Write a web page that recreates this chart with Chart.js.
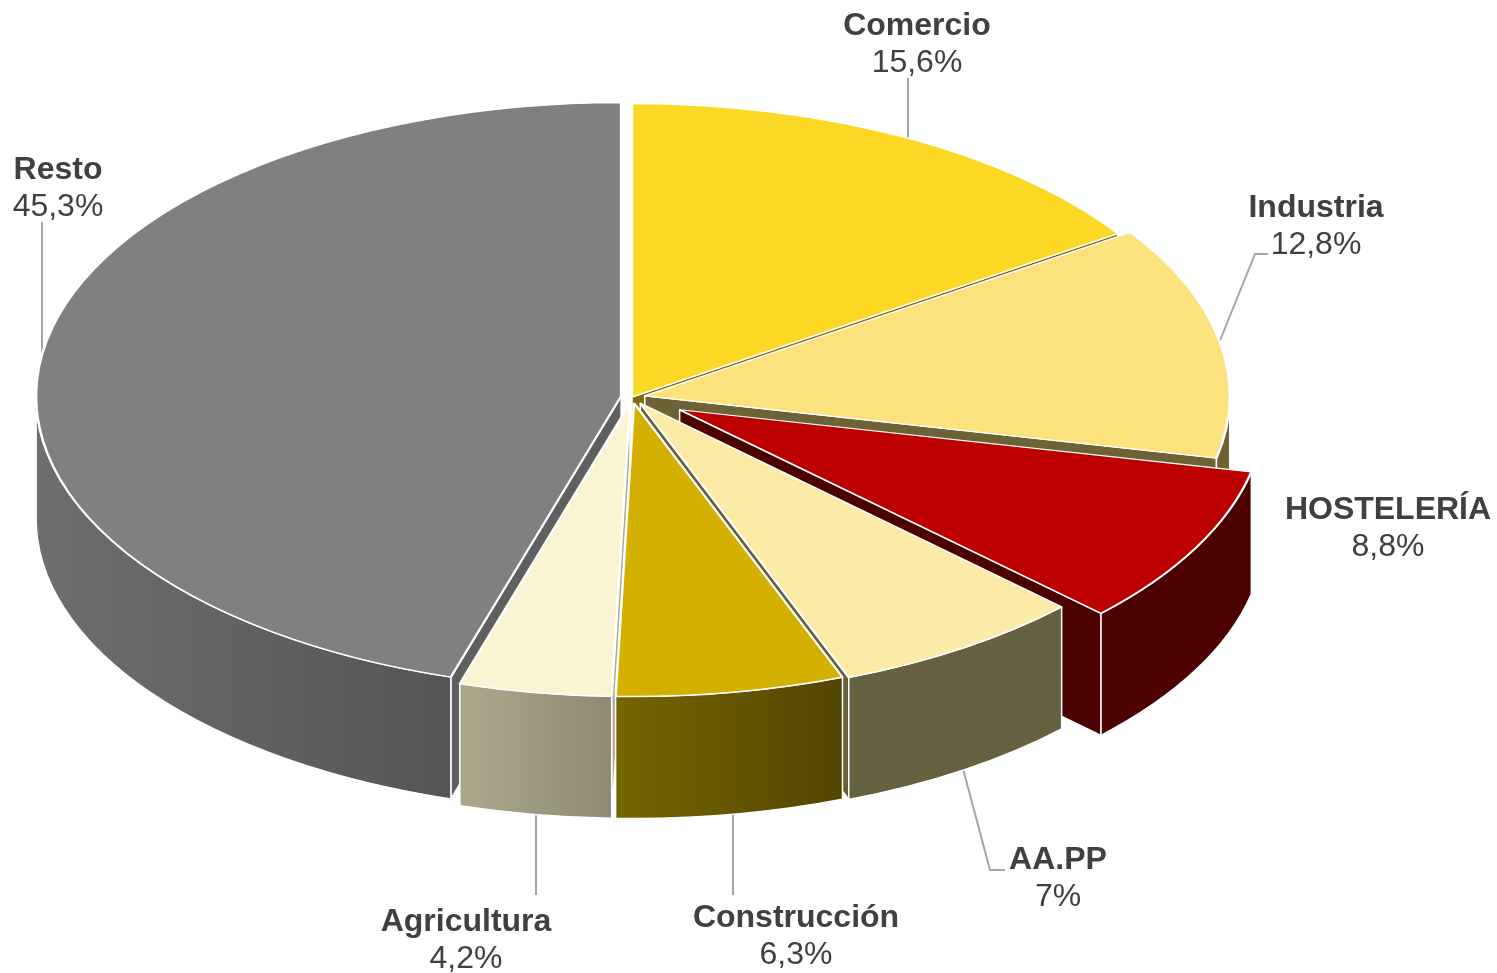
<!DOCTYPE html>
<html lang="es">
<head>
<meta charset="utf-8">
<title>Pie 3D</title>
<style>
html,body{margin:0;padding:0;background:#fff;overflow:hidden}
canvas{display:block}
</style>
<script src="https://cdn.jsdelivr.net/npm/chart.js@4"></script>
</head>
<body>
<canvas id="c" width="1497" height="973"></canvas>
<script>
// data
const categories = ['Comercio','Industria','HOSTELERÍA','AA.PP','Construcción','Agricultura','Resto'];
const shares     = [15.6, 12.8, 8.8, 7, 6.3, 4.2, 45.3];
// styling
const topColors  = ['#FBD823','#FBE27C','#BC0000','#FCEBA7','#D4B100','#FBF4D3','#808080'];
const faceColors = ['#7D6C11','#6D6235','#4D0000','#65603F','#776500','#ADA88C','#5F5F5F'];
const wallStart  = ['#7D6C11','#6D6235','#4D0000','#65603F','#776500','#ADA88C','#6E6E6E'];
const wallEnd    = ['#7D6C11','#6D6235','#4D0000','#65603F','#524500','#8E8A74','#555555'];
const explodePx  = [0, 13, 54, 15, 12, 12, 11];
// 3D view
const RADIUS = 585, TILT = 0.5017, DEPTH = 122;
// annotation layout
const labelX     = [917, 1316, 1388, 1058, 796, 466, 58];
const labelY     = [35, 217, 519, 869, 927, 931, 179];
const LINE_STEP  = 37;
const leaderLines = [
  [[908,78],[908,145]],
  [[1268,254],[1255,254],[1219,343]],
  null,
  [[1005,870],[990,870],[962,765]],
  [[733,812],[733,895]],
  [[536,812],[536,895]],
  [[42,222],[42,360]]
];

const view3d = {
  id: 'view3d',
  afterDatasetsUpdate(chart) {
    chart.getDatasetMeta(0).data.forEach((a, i) => {
      const mid = (a.startAngle + a.endAngle) / 2;
      a.$cy = a.y;
      a.x += Math.cos(mid) * explodePx[i];
      a.y += Math.sin(mid) * explodePx[i];
    });
  },
  beforeDatasetDraw(chart, args) {
    const ctx = chart.ctx, arcs = args.meta.data;
    const cy = arcs[0].$cy;
    const px = (a, t, dz) => [a.x + a.outerRadius * Math.cos(t),
                              cy + TILT * (a.y - cy + a.outerRadius * Math.sin(t)) + dz];
    const apexY = a => cy + TILT * (a.y - cy);

    // leader lines sit beneath the pie
    ctx.save();
    ctx.strokeStyle = '#A6A6A6';
    ctx.lineWidth = 2;
    leaderLines.forEach(l => {
      if (!l) return;
      ctx.beginPath();
      l.forEach((p, j) => j ? ctx.lineTo(p[0], p[1]) : ctx.moveTo(p[0], p[1]));
      ctx.stroke();
    });
    ctx.restore();

    ctx.save();
    ctx.strokeStyle = '#FFFFFF';
    ctx.lineWidth = 1.5;
    ctx.lineJoin = 'round';

    // radial cut faces, back to front
    const order = arcs.map((a, i) => i).sort((p, q) =>
      Math.sin((arcs[p].startAngle + arcs[p].endAngle) / 2) - Math.sin((arcs[q].startAngle + arcs[q].endAngle) / 2));
    const eps = 1e-3;
    order.forEach(i => {
      const a = arcs[i];
      [[a.endAngle, Math.cos(a.endAngle) > eps], [a.startAngle, Math.cos(a.startAngle) < -eps]].forEach(([t, show]) => {
        if (!show) return;
        const e = px(a, t, 0), ay = apexY(a);
        ctx.beginPath();
        ctx.moveTo(a.x, ay);
        ctx.lineTo(e[0], e[1]);
        ctx.lineTo(e[0], e[1] + DEPTH);
        ctx.lineTo(a.x, ay + DEPTH);
        ctx.closePath();
        ctx.fillStyle = faceColors[i];
        ctx.fill();
        ctx.stroke();
      });
    });

    // outer walls
    order.forEach(i => {
      const a = arcs[i];
      const t0 = Math.max(a.startAngle, 0), t1 = Math.min(a.endAngle, Math.PI);
      if (t1 <= t0) return;
      const ay = apexY(a), rx = a.outerRadius, ry = a.outerRadius * TILT;
      const p0 = px(a, t0, 0), p1 = px(a, t1, 0);
      const g = ctx.createLinearGradient(Math.min(p0[0], p1[0]), 0, Math.max(p0[0], p1[0]), 0);
      g.addColorStop(0, wallStart[i]);
      g.addColorStop(1, wallEnd[i]);
      ctx.beginPath();
      ctx.ellipse(a.x, ay, rx, ry, 0, t0, t1, false);
      ctx.ellipse(a.x, ay + DEPTH, rx, ry, 0, t1, t0, true);
      ctx.closePath();
      ctx.fillStyle = g;
      ctx.fill();
      ctx.stroke();
    });
    ctx.restore();

    // top faces: the library's own arcs, tilted
    ctx.save();
    ctx.translate(0, cy);
    ctx.scale(1, TILT);
    ctx.translate(0, -cy);
    arcs.forEach(a => a.draw(ctx));
    ctx.restore();
    return false;
  },
  afterDraw(chart) {
    const ctx = chart.ctx;
    ctx.save();
    ctx.fillStyle = '#404040';
    ctx.textAlign = 'center';
    ctx.textBaseline = 'alphabetic';
    categories.forEach((name, i) => {
      ctx.font = 'bold 32px "Liberation Sans", Arial, sans-serif';
      ctx.fillText(name, labelX[i], labelY[i]);
      ctx.font = '32px "Liberation Sans", Arial, sans-serif';
      ctx.fillText(String(shares[i]).replace('.', ',') + '%', labelX[i], labelY[i] + LINE_STEP);
    });
    ctx.restore();
  }
};

new Chart(document.getElementById('c'), {
  type: 'pie',
  data: {
    labels: categories,
    datasets: [{
      data: shares,
      backgroundColor: topColors,
      borderColor: '#FFFFFF',
      borderWidth: 2.5,
      radius: RADIUS
    }]
  },
  options: {
    responsive: false,
    animation: false,
    devicePixelRatio: 1,
    layout: { padding: { left: 0, top: 0, right: 233, bottom: 179 } },
    plugins: { legend: { display: false }, tooltip: { enabled: false } }
  },
  plugins: [view3d]
});
</script>
</body>
</html>
